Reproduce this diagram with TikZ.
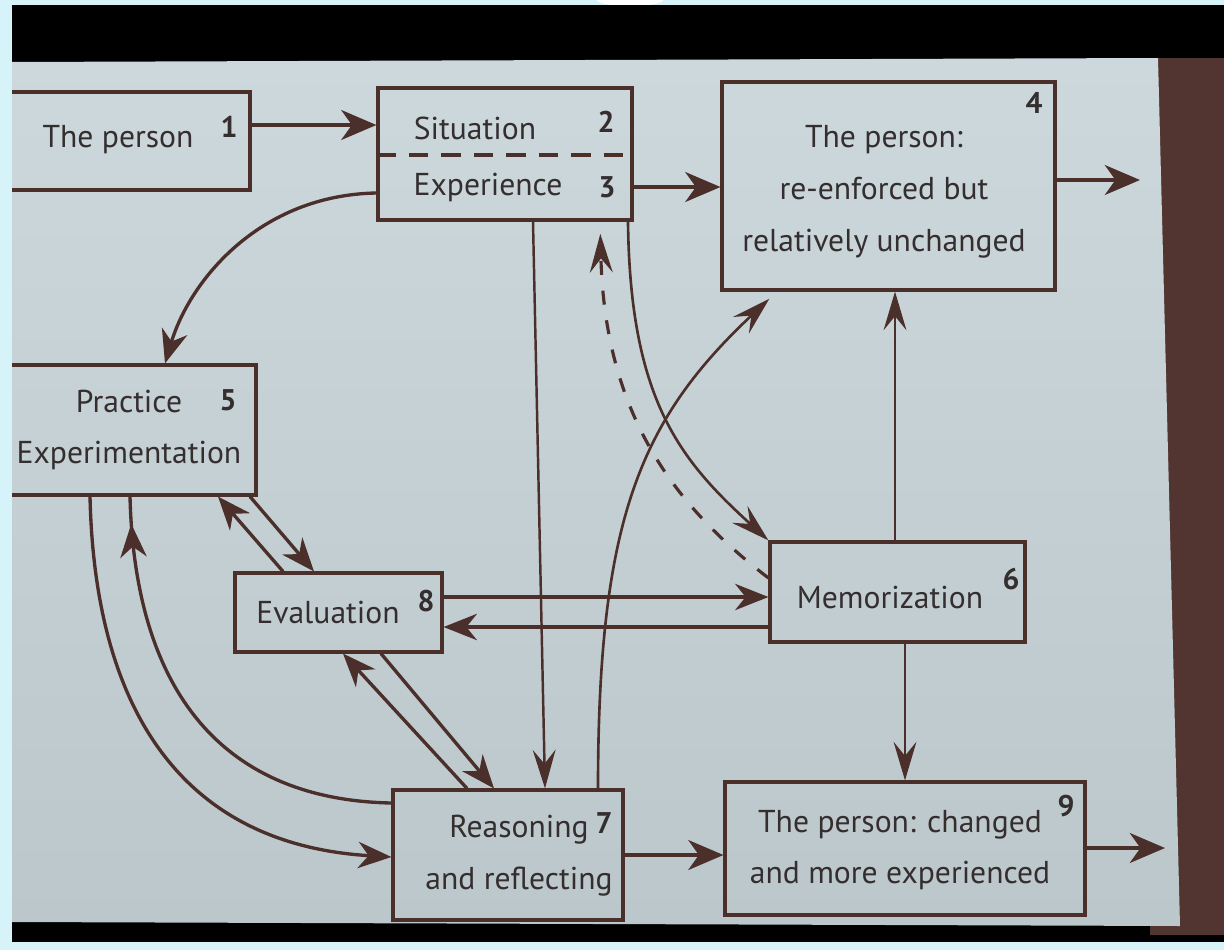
\documentclass[tikz,border=0pt]{standalone}
\usepackage{fontspec}
\setmainfont{PT Sans}
\usetikzlibrary{arrows.meta,calc,decorations.markings}
\definecolor{ln}{HTML}{4B2F2B}
\definecolor{tx}{HTML}{342E2F}
\definecolor{slidetop}{HTML}{CDD8DC}
\definecolor{slidebot}{HTML}{BCC7CB}
\definecolor{frame}{HTML}{D6F3FA}
\definecolor{brn}{HTML}{523531}
\begin{document}
\begin{tikzpicture}[x=0.02cm,y=-0.02cm,
  box/.style={draw=ln, line width=1.8pt, inner sep=0pt},
  lbl/.style={text=tx, font=\fontsize{18}{29.5}\selectfont, inner sep=0pt, align=center},
  num/.style={text=tx, font=\fontsize{17}{20}\selectfont\bfseries, inner sep=0pt},
  thk/.style={color=ln, line width=2.2pt, -{Stealth[length=20pt,width=17pt,inset=6pt]}},
  med/.style={color=ln, line width=1.9pt, -{Stealth[length=19pt,width=15pt,inset=6pt]}},
  thn/.style={color=ln, line width=1.4pt, -{Stealth[length=22pt,width=13pt,inset=8pt]}},
  midtip/.style={color=ln, line width=1.9pt, postaction={decorate},
    decoration={markings, mark=at position #1 with {\arrow{Stealth[length=19pt,width=15pt,inset=6pt]}}}},
]
\useasboundingbox (0,0) rectangle (1224,950);
% photo surroundings
\fill[frame] (0,0) rectangle (1224,950);
\fill[white] (630,0) ellipse (0.66cm and 0.12cm);
\fill[black] (12,5) rectangle (1224,62);
\fill[black] (12,918) rectangle (1224,942);
\fill[brn] (1150,58) rectangle (1224,935);
\shade[top color=slidetop, bottom color=slidebot] (12,62) -- (1158,58) -- (1180,926) -- (12,922) -- cycle;

% boxes
\node[box, minimum width=5.2cm, minimum height=1.96cm] (b1) at (120,141) {};
\node[box, minimum width=5.08cm, minimum height=2.64cm] (b23) at (505,154) {};
\node[box, minimum width=6.66cm, minimum height=4.16cm] (b4) at (888.5,186) {};
\node[box, minimum width=5.32cm, minimum height=2.6cm] (b5) at (123,430) {};
\node[box, minimum width=4.14cm, minimum height=1.58cm] (b8) at (338.5,612.5) {};
\node[box, minimum width=5.1cm, minimum height=2.0cm] (b6) at (897.5,592) {};
\node[box, minimum width=4.6cm, minimum height=2.6cm] (b7) at (508,855) {};
\node[box, minimum width=7.2cm, minimum height=2.66cm] (b9) at (905,848.5) {};

\draw[ln, line width=1.8pt, dash pattern=on 11pt off 7.5pt] (b23.west |- 0,155) -- (b23.east |- 0,155);

% texts
\node[lbl] (t1) at (118,140) {The person};
\node[lbl] (t2) at (475,128) {Situation};
\node[lbl] (t3) at (488,187) {Experience};
\node[lbl] (t4) at (884,192) {The person:\\re-enforced but\\relatively unchanged};
\node[lbl] (t5) at (129,430) {Practice\\Experimentation};
\node[lbl] (t8) at (328,612) {Evaluation};
\node[lbl] (t6) at (890,597) {Memorization};
\node[lbl] (t7) at (519,856) {Reasoning\\and reflecting};
\node[lbl] (t9) at (900,850) {The person: changed\\and more experienced};

% numbers
\node[num] (n1) at (229,127) {1};
\node[num] (n2) at (606,122) {2};
\node[num] (n3) at (607,187) {3};
\node[num] (n4) at (1034,103) {4};
\node[num] (n5) at (228,400) {5};
\node[num] (n8) at (426,601) {8};
\node[num] (n6) at (1011,579) {6};
\node[num] (n7) at (604,823) {7};
\node[num] (n9) at (1066,806) {9};

% straight connectors
\draw[thk] (b1.east |- 0,125) -- (b23.west |- 0,125);
\draw[thk] (b23.east |- 0,187) -- (b4.west |- 0,187);
\coordinate (o4) at (1140,180);
\draw[thk] (b4.east |- o4) -- (o4);
\draw[thk] (b7.east |- 0,855) -- (b9.west |- 0,855);
\coordinate (o9) at (1165,848);
\draw[thk] (b9.east |- o9) -- (o9);
\draw[med] (b8.east |- 0,597) -- (b6.west |- 0,597);
\draw[med] (b6.west |- 0,627) -- (b8.east |- 0,627);
\draw[thn] (b6.north -| 895,0) -- (b4.south -| 895,0);
\draw[thn] (b6.south -| 905,0) -- (b9.north -| 905,0);
\draw[thn] (b23.south -| 533,0) -- (b7.north -| 545,0);

% diagonal pairs
\draw[med] (b8.north -| 283,0) -- (b5.south -| 218,0);
\draw[med] (b5.south -| 250,0) -- (b8.north -| 314,0);
\draw[med] (b7.north -| 467,0) -- (b8.south -| 343,0);
\draw[med] (b8.south -| 381,0) -- (b7.north -| 494,0);

% curves
\draw[med] (b23.west |- 0,193) .. controls (260,195) and (190,280) .. (b5.north -| 165,0);
\draw[thn, line width=1.8pt, dash pattern=on 8pt off 9pt, shorten >=7pt] (b6.west |- 0,578) .. controls (680,510) and (605,420) .. (b23.south -| 600,0);
\draw[thn, line width=1.5pt] (b23.south -| 628,0) .. controls (630,400) and (680,460) .. (b6.north west);
\draw[thn, line width=1.5pt, shorten >=6pt] (b7.north -| 598,0) .. controls (598,520) and (640,420) .. (b4.south -| 777,0);
\draw[med] (b5.south -| 90,0) .. controls (95,720) and (190,845) .. (b7.west |- 0,857);
\draw[midtip=0.94] (b7.west |- 0,803) .. controls (230,800) and (135,700) .. (b5.south -| 130,0);

% left edge of the photo frame covers the cut box edges
\fill[frame] (0,0) rectangle (12,950);
\end{tikzpicture}
\end{document}
